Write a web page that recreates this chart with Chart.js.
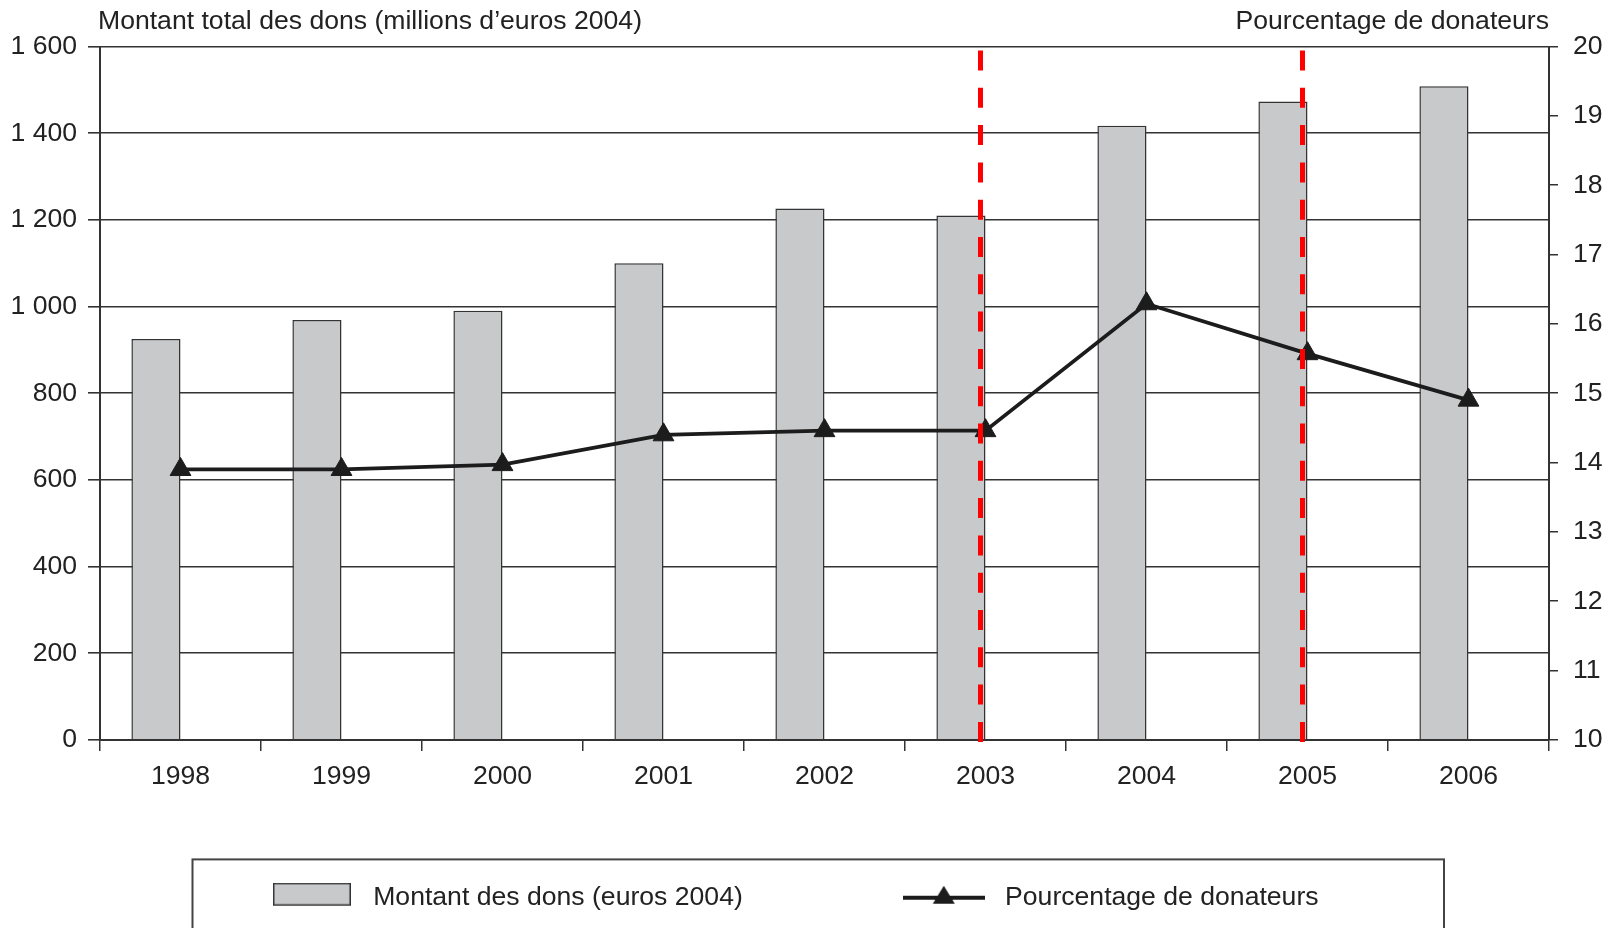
<!DOCTYPE html>
<html>
<head>
<meta charset="utf-8">
<script src="https://cdn.jsdelivr.net/npm/chart.js@4.4.1/dist/chart.umd.min.js"></script>
<style>
    html, body { margin: 0; padding: 0; background: #fff; }
    #wrap { width: 1614px; height: 928px; }
</style>
</head>
<body>
<div id="wrap"><canvas id="chartDons" width="1614" height="928"></canvas></div>
<script>
// values
const years = ['1998', '1999', '2000', '2001', '2002', '2003', '2004', '2005', '2006'];
const montantDons = [925, 969, 990, 1100, 1226, 1210, 1417, 1473, 1508];        // millions d'euros 2004
const pctDonateurs = [13.9, 13.9, 13.97, 14.4, 14.46, 14.46, 16.29, 15.57, 14.9]; // %
const markerYears = ['2003', '2005'];  // red dashed lines
const leftTicks = [0, 200, 400, 600, 800, 1000, 1200, 1400, 1600];
const rightTicks = [10, 11, 12, 13, 14, 15, 16, 17, 18, 19, 20];

const leftTitle = 'Montant total des dons (millions d’euros 2004)';
const rightTitle = 'Pourcentage de donateurs';
const barLabel = 'Montant des dons (euros 2004)';
const lineLabel = 'Pourcentage de donateurs';

const FONT = '"Liberation Sans", Arial, Helvetica, sans-serif';
const FS = 26.6;
const INK = '#222';
const RULE = '#333';
const BAR_FILL = '#c8c9cb';
const LINE_COL = '#1c1c1c';

Chart.defaults.font.family = FONT;
Chart.defaults.font.size = FS;
Chart.defaults.color = INK;

// "1 600" style labels
function fmtThousands(v) {
    if (v >= 1000) return Math.floor(v / 1000) + ' ' + String(v % 1000).padStart(3, '0');
    return String(v);
}

// legend icons
function barIcon() {
    const c = document.createElement('canvas');
    c.width = 78; c.height = 30;
    const g = c.getContext('2d');
    g.fillStyle = BAR_FILL;
    g.fillRect(0, 0, 78, 23);
    g.strokeStyle = RULE;
    g.lineWidth = 1.5;
    g.strokeRect(0.75, 0.75, 76.5, 21.5);
    return c;
}
function lineIcon() {
    const c = document.createElement('canvas');
    c.width = 82; c.height = 24;
    const g = c.getContext('2d');
    g.strokeStyle = LINE_COL;
    g.lineWidth = 4;
    g.beginPath(); g.moveTo(0, 12); g.lineTo(82, 12); g.stroke();
    g.fillStyle = LINE_COL;
    g.beginPath(); g.moveTo(41, 0); g.lineTo(52, 18); g.lineTo(30, 18); g.closePath(); g.fill();
    return c;
}

// axis titles written above the plot, left and right
const axisTitles = {
    id: 'axisTitles',
    afterDraw(chart) {
        const { ctx, chartArea } = chart;
        ctx.save();
        ctx.font = FS + 'px ' + FONT;
        ctx.fillStyle = INK;
        ctx.textBaseline = 'middle';
        ctx.textAlign = 'left';
        ctx.fillText(leftTitle, chartArea.left - 2, chartArea.top - 25);
        ctx.textAlign = 'right';
        ctx.fillText(rightTitle, chartArea.right, chartArea.top - 25);
        ctx.restore();
    }
};

// red dashed markers
const markerLines = {
    id: 'markerLines',
    afterDatasetsDraw(chart) {
        const { ctx, chartArea } = chart;
        const xs = chart.scales.x;
        ctx.save();
        ctx.strokeStyle = '#ff0000';
        ctx.lineWidth = 5;
        ctx.setLineDash([20, 17.3]);
        markerYears.forEach(function (yr) {
            const x = xs.getPixelForValue(years.indexOf(yr)) - 5;
            ctx.beginPath();
            ctx.moveTo(x, chartArea.top + 4);
            ctx.lineTo(x, chartArea.bottom + 4);
            ctx.stroke();
        });
        ctx.restore();
    }
};

// frame round the legend
const legendFrame = {
    id: 'legendFrame',
    afterDraw(chart) {
        const lg = chart.legend;
        if (!lg) return;
        const ctx = chart.ctx;
        ctx.save();
        ctx.strokeStyle = '#444';
        ctx.lineWidth = 2;
        ctx.strokeRect(192.5, lg.top - 5, 1251.5, 120);
        ctx.restore();
    }
};

const ctx = document.getElementById('chartDons');

new Chart(ctx, {
    type: 'bar',
    data: {
        labels: years,
        datasets: [
            {
                type: 'line',
                label: lineLabel,
                data: pctDonateurs,
                yAxisID: 'y1',
                borderColor: LINE_COL,
                borderWidth: 3.8,
                pointStyle: 'triangle',
                pointRadius: 12,
                pointBackgroundColor: LINE_COL,
                pointBorderColor: LINE_COL,
                pointBorderWidth: 1,
                tension: 0,
                order: 0
            },
            {
                label: barLabel,
                data: montantDons,
                yAxisID: 'y',
                backgroundColor: BAR_FILL,
                borderColor: RULE,
                borderWidth: 1.5,
                categoryPercentage: 0.61,
                barPercentage: 1,
                order: 1
            },
            {
                // empty slot so the bars sit left of each year
                label: '',
                data: [],
                yAxisID: 'y',
                categoryPercentage: 0.61,
                barPercentage: 1,
                order: 2
            }
        ]
    },
    options: {
        responsive: false,
        animation: false,
        layout: { padding: { top: 46.5, left: 10, right: 12, bottom: 7 } },
        plugins: {
            tooltip: { enabled: false },
            title: { display: false },
            legend: {
                display: true,
                position: 'bottom',
                labels: {
                    usePointStyle: true,
                    pointStyleWidth: 96,
                    boxHeight: 22,
                    padding: 20,
                    color: INK,
                    font: { size: FS },
                    generateLabels: function () {
                        return [
                            { text: barLabel + ' '.repeat(18), pointStyle: barIcon(), lineWidth: 0, hidden: false, datasetIndex: 1, fontColor: INK },
                            { text: lineLabel + ' '.repeat(4), pointStyle: lineIcon(), lineWidth: 0, hidden: false, datasetIndex: 0, fontColor: INK }
                        ];
                    }
                }
            }
        },
        scales: {
            x: {
                grid: { drawOnChartArea: false, offset: true, tickLength: 11, color: RULE, lineWidth: 1.5 },
                border: { color: RULE, width: 2 },
                ticks: { padding: 10, color: INK, font: { size: FS } },
                afterFit: function (scale) { scale.height = 124.5; }
            },
            y: {
                position: 'left',
                min: 0,
                max: 1600,
                grid: { color: RULE, lineWidth: 1.6, tickLength: 12 },
                border: { color: RULE, width: 2 },
                ticks: { padding: 11, color: INK, font: { size: FS }, callback: function (v) { return fmtThousands(v); } },
                afterBuildTicks: function (scale) { scale.ticks = leftTicks.map(v => ({ value: v })); },
                afterFit: function (scale) { scale.width = 90; }
            },
            y1: {
                position: 'right',
                min: 10,
                max: 20,
                grid: { drawOnChartArea: false, tickLength: 9, color: RULE, lineWidth: 1.5 },
                border: { color: RULE, width: 2 },
                ticks: { padding: 15, color: INK, font: { size: FS } },
                afterBuildTicks: function (scale) { scale.ticks = rightTicks.map(v => ({ value: v })); },
                afterFit: function (scale) { scale.width = 53; }
            }
        }
    },
    plugins: [axisTitles, markerLines, legendFrame]
});
</script>
</body>
</html>
